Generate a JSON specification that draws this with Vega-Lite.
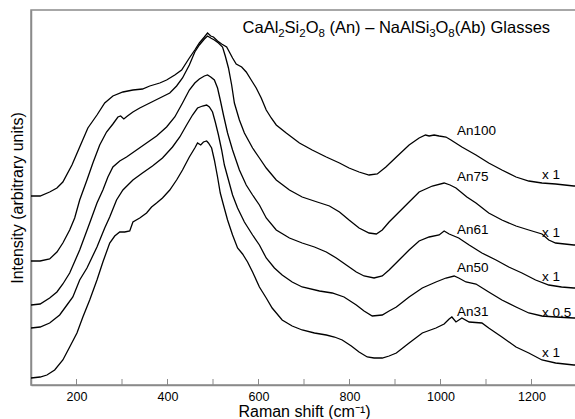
{
  "$schema": "https://vega.github.io/schema/vega-lite/v6.json",
  "autosize": "none",
  "padding": {"left": 31, "top": 10, "right": 0, "bottom": 34},
  "width": 546,
  "height": 375,
  "background": "white",
  "config": {
    "font": "Liberation Sans",
    "view": {"stroke": "#8a8a8a", "strokeWidth": 1.5},
    "axis": {"grid": false, "titleFontWeight": "normal", "titleFont": "Liberation Sans", "labelFont": "Liberation Sans", "titleColor": "black", "labelColor": "black", "domainColor": "#8a8a8a", "domainWidth": 1.5, "tickColor": "#8a8a8a"}
  },
  "datasets": {
    "spectra": [
      {"s":"An100","x":100,"y":189},{"s":"An100","x":120,"y":189},{"s":"An100","x":141,"y":193},{"s":"An100","x":157,"y":197},{"s":"An100","x":170,"y":203},{"s":"An100","x":190,"y":220},{"s":"An100","x":207,"y":238},{"s":"An100","x":225,"y":257},{"s":"An100","x":245,"y":270},{"s":"An100","x":262,"y":282},{"s":"An100","x":280,"y":289},{"s":"An100","x":302,"y":293},{"s":"An100","x":324,"y":295},{"s":"An100","x":345,"y":296},{"s":"An100","x":361,"y":299},{"s":"An100","x":383,"y":302},{"s":"An100","x":398,"y":305},{"s":"An100","x":416,"y":310},{"s":"An100","x":431,"y":315},{"s":"An100","x":448,"y":327},{"s":"An100","x":460,"y":335},{"s":"An100","x":470,"y":342},{"s":"An100","x":481,"y":348},{"s":"An100","x":488,"y":352},{"s":"An100","x":495,"y":349},{"s":"An100","x":501,"y":348},{"s":"An100","x":510,"y":344},{"s":"An100","x":519,"y":341},{"s":"An100","x":530,"y":338},{"s":"An100","x":536,"y":333},{"s":"An100","x":543,"y":327},{"s":"An100","x":551,"y":321},{"s":"An100","x":563,"y":318},{"s":"An100","x":573,"y":313},{"s":"An100","x":584,"y":305},{"s":"An100","x":595,"y":297},{"s":"An100","x":606,"y":287},{"s":"An100","x":617,"y":275},{"s":"An100","x":628,"y":267},{"s":"An100","x":639,"y":260},{"s":"An100","x":661,"y":252},{"s":"An100","x":690,"y":242},{"s":"An100","x":718,"y":235},{"s":"An100","x":749,"y":228},{"s":"An100","x":778,"y":222},{"s":"An100","x":799,"y":217},{"s":"An100","x":821,"y":213},{"s":"An100","x":843,"y":210},{"s":"An100","x":861,"y":211},{"s":"An100","x":880,"y":218},{"s":"An100","x":903,"y":228},{"s":"An100","x":931,"y":240},{"s":"An100","x":953,"y":247},{"s":"An100","x":967,"y":250},{"s":"An100","x":975,"y":249},{"s":"An100","x":986,"y":250},{"s":"An100","x":997,"y":249},{"s":"An100","x":1012,"y":248},{"s":"An100","x":1023,"y":245},{"s":"An100","x":1047,"y":238},{"s":"An100","x":1078,"y":230},{"s":"An100","x":1106,"y":222},{"s":"An100","x":1135,"y":215},{"s":"An100","x":1166,"y":208},{"s":"An100","x":1194,"y":204},{"s":"An100","x":1223,"y":202},{"s":"An100","x":1253,"y":201},{"s":"An100","x":1293,"y":199},{"s":"An100","x":1300,"y":199},

      {"s":"An75","x":100,"y":124},{"s":"An75","x":120,"y":124},{"s":"An75","x":141,"y":126},{"s":"An75","x":157,"y":133},{"s":"An75","x":170,"y":142},{"s":"An75","x":185,"y":155},{"s":"An75","x":196,"y":167},{"s":"An75","x":207,"y":185},{"s":"An75","x":223,"y":205},{"s":"An75","x":236,"y":222},{"s":"An75","x":251,"y":240},{"s":"An75","x":266,"y":253},{"s":"An75","x":280,"y":261},{"s":"An75","x":291,"y":268},{"s":"An75","x":297,"y":269},{"s":"An75","x":304,"y":266},{"s":"An75","x":312,"y":269},{"s":"An75","x":324,"y":273},{"s":"An75","x":339,"y":277},{"s":"An75","x":361,"y":282},{"s":"An75","x":383,"y":287},{"s":"An75","x":405,"y":292},{"s":"An75","x":420,"y":299},{"s":"An75","x":433,"y":307},{"s":"An75","x":448,"y":320},{"s":"An75","x":460,"y":333},{"s":"An75","x":470,"y":340},{"s":"An75","x":481,"y":346},{"s":"An75","x":488,"y":349},{"s":"An75","x":495,"y":347},{"s":"An75","x":503,"y":345},{"s":"An75","x":512,"y":342},{"s":"An75","x":521,"y":338},{"s":"An75","x":527,"y":329},{"s":"An75","x":534,"y":317},{"s":"An75","x":541,"y":300},{"s":"An75","x":547,"y":282},{"s":"An75","x":558,"y":265},{"s":"An75","x":569,"y":252},{"s":"An75","x":587,"y":237},{"s":"An75","x":602,"y":227},{"s":"An75","x":617,"y":217},{"s":"An75","x":639,"y":205},{"s":"An75","x":668,"y":195},{"s":"An75","x":696,"y":188},{"s":"An75","x":729,"y":183},{"s":"An75","x":756,"y":179},{"s":"An75","x":778,"y":173},{"s":"An75","x":799,"y":165},{"s":"An75","x":821,"y":157},{"s":"An75","x":843,"y":152},{"s":"An75","x":859,"y":151},{"s":"An75","x":872,"y":155},{"s":"An75","x":887,"y":163},{"s":"An75","x":909,"y":173},{"s":"An75","x":931,"y":183},{"s":"An75","x":953,"y":193},{"s":"An75","x":982,"y":199},{"s":"An75","x":1008,"y":202},{"s":"An75","x":1021,"y":200},{"s":"An75","x":1034,"y":197},{"s":"An75","x":1058,"y":188},{"s":"An75","x":1078,"y":182},{"s":"An75","x":1106,"y":172},{"s":"An75","x":1135,"y":165},{"s":"An75","x":1166,"y":159},{"s":"An75","x":1194,"y":155},{"s":"An75","x":1223,"y":151},{"s":"An75","x":1238,"y":145},{"s":"An75","x":1253,"y":142},{"s":"An75","x":1293,"y":140},{"s":"An75","x":1300,"y":140},

      {"s":"An61","x":100,"y":80},{"s":"An61","x":120,"y":81},{"s":"An61","x":141,"y":87},{"s":"An61","x":157,"y":93},{"s":"An61","x":170,"y":101},{"s":"An61","x":185,"y":112},{"s":"An61","x":207,"y":135},{"s":"An61","x":229,"y":162},{"s":"An61","x":245,"y":182},{"s":"An61","x":258,"y":195},{"s":"An61","x":269,"y":208},{"s":"An61","x":280,"y":218},{"s":"An61","x":295,"y":224},{"s":"An61","x":310,"y":228},{"s":"An61","x":332,"y":235},{"s":"An61","x":354,"y":242},{"s":"An61","x":376,"y":249},{"s":"An61","x":398,"y":258},{"s":"An61","x":416,"y":268},{"s":"An61","x":433,"y":282},{"s":"An61","x":448,"y":295},{"s":"An61","x":460,"y":302},{"s":"An61","x":470,"y":306},{"s":"An61","x":481,"y":309},{"s":"An61","x":488,"y":310},{"s":"An61","x":495,"y":308},{"s":"An61","x":503,"y":305},{"s":"An61","x":510,"y":297},{"s":"An61","x":516,"y":285},{"s":"An61","x":523,"y":270},{"s":"An61","x":532,"y":252},{"s":"An61","x":543,"y":235},{"s":"An61","x":558,"y":215},{"s":"An61","x":573,"y":200},{"s":"An61","x":587,"y":190},{"s":"An61","x":602,"y":180},{"s":"An61","x":617,"y":167},{"s":"An61","x":639,"y":155},{"s":"An61","x":668,"y":147},{"s":"An61","x":696,"y":142},{"s":"An61","x":723,"y":138},{"s":"An61","x":749,"y":133},{"s":"An61","x":771,"y":127},{"s":"An61","x":793,"y":120},{"s":"An61","x":815,"y":113},{"s":"An61","x":832,"y":109},{"s":"An61","x":854,"y":107},{"s":"An61","x":872,"y":109},{"s":"An61","x":887,"y":115},{"s":"An61","x":909,"y":125},{"s":"An61","x":931,"y":135},{"s":"An61","x":953,"y":144},{"s":"An61","x":975,"y":148},{"s":"An61","x":997,"y":150},{"s":"An61","x":1008,"y":154},{"s":"An61","x":1019,"y":151},{"s":"An61","x":1040,"y":147},{"s":"An61","x":1063,"y":140},{"s":"An61","x":1091,"y":132},{"s":"An61","x":1122,"y":125},{"s":"An61","x":1150,"y":118},{"s":"An61","x":1179,"y":112},{"s":"An61","x":1209,"y":105},{"s":"An61","x":1238,"y":100},{"s":"An61","x":1266,"y":98},{"s":"An61","x":1293,"y":97},{"s":"An61","x":1300,"y":97},

      {"s":"An50","x":100,"y":57},{"s":"An50","x":120,"y":58},{"s":"An50","x":141,"y":62},{"s":"An50","x":163,"y":70},{"s":"An50","x":179,"y":80},{"s":"An50","x":192,"y":88},{"s":"An50","x":207,"y":105},{"s":"An50","x":223,"y":117},{"s":"An50","x":245,"y":138},{"s":"An50","x":262,"y":157},{"s":"An50","x":273,"y":168},{"s":"An50","x":288,"y":185},{"s":"An50","x":302,"y":195},{"s":"An50","x":324,"y":205},{"s":"An50","x":345,"y":212},{"s":"An50","x":367,"y":219},{"s":"An50","x":389,"y":227},{"s":"An50","x":411,"y":238},{"s":"An50","x":427,"y":248},{"s":"An50","x":442,"y":260},{"s":"An50","x":455,"y":270},{"s":"An50","x":466,"y":277},{"s":"An50","x":477,"y":279},{"s":"An50","x":486,"y":280},{"s":"An50","x":492,"y":278},{"s":"An50","x":499,"y":273},{"s":"An50","x":505,"y":263},{"s":"An50","x":512,"y":250},{"s":"An50","x":519,"y":235},{"s":"An50","x":525,"y":220},{"s":"An50","x":534,"y":205},{"s":"An50","x":543,"y":190},{"s":"An50","x":554,"y":177},{"s":"An50","x":569,"y":163},{"s":"An50","x":587,"y":150},{"s":"An50","x":602,"y":140},{"s":"An50","x":617,"y":127},{"s":"An50","x":635,"y":117},{"s":"An50","x":652,"y":110},{"s":"An50","x":674,"y":103},{"s":"An50","x":696,"y":98},{"s":"An50","x":734,"y":94},{"s":"An50","x":762,"y":92},{"s":"An50","x":788,"y":88},{"s":"An50","x":815,"y":80},{"s":"An50","x":832,"y":74},{"s":"An50","x":850,"y":69},{"s":"An50","x":872,"y":70},{"s":"An50","x":887,"y":74},{"s":"An50","x":903,"y":78},{"s":"An50","x":931,"y":88},{"s":"An50","x":960,"y":97},{"s":"An50","x":990,"y":103},{"s":"An50","x":1012,"y":107},{"s":"An50","x":1030,"y":109},{"s":"An50","x":1040,"y":107},{"s":"An50","x":1056,"y":103},{"s":"An50","x":1078,"y":101},{"s":"An50","x":1106,"y":93},{"s":"An50","x":1135,"y":85},{"s":"An50","x":1166,"y":78},{"s":"An50","x":1194,"y":72},{"s":"An50","x":1223,"y":69},{"s":"An50","x":1253,"y":68},{"s":"An50","x":1293,"y":67},{"s":"An50","x":1300,"y":67},

      {"s":"An31","x":100,"y":7},{"s":"An31","x":120,"y":8},{"s":"An31","x":135,"y":10},{"s":"An31","x":152,"y":15},{"s":"An31","x":170,"y":25},{"s":"An31","x":185,"y":38},{"s":"An31","x":201,"y":52},{"s":"An31","x":214,"y":68},{"s":"An31","x":229,"y":85},{"s":"An31","x":245,"y":105},{"s":"An31","x":258,"y":123},{"s":"An31","x":273,"y":142},{"s":"An31","x":284,"y":149},{"s":"An31","x":295,"y":153},{"s":"An31","x":306,"y":153},{"s":"An31","x":317,"y":154},{"s":"An31","x":324,"y":163},{"s":"An31","x":339,"y":167},{"s":"An31","x":354,"y":172},{"s":"An31","x":365,"y":178},{"s":"An31","x":376,"y":182},{"s":"An31","x":389,"y":187},{"s":"An31","x":405,"y":195},{"s":"An31","x":420,"y":205},{"s":"An31","x":433,"y":215},{"s":"An31","x":448,"y":228},{"s":"An31","x":460,"y":237},{"s":"An31","x":466,"y":242},{"s":"An31","x":473,"y":240},{"s":"An31","x":479,"y":243},{"s":"An31","x":486,"y":244},{"s":"An31","x":490,"y":242},{"s":"An31","x":497,"y":237},{"s":"An31","x":503,"y":225},{"s":"An31","x":510,"y":208},{"s":"An31","x":516,"y":192},{"s":"An31","x":523,"y":180},{"s":"An31","x":532,"y":165},{"s":"An31","x":543,"y":150},{"s":"An31","x":554,"y":137},{"s":"An31","x":565,"y":131},{"s":"An31","x":576,"y":123},{"s":"An31","x":587,"y":113},{"s":"An31","x":602,"y":98},{"s":"An31","x":617,"y":87},{"s":"An31","x":630,"y":77},{"s":"An31","x":652,"y":65},{"s":"An31","x":674,"y":59},{"s":"An31","x":696,"y":55},{"s":"An31","x":723,"y":52},{"s":"An31","x":749,"y":50},{"s":"An31","x":767,"y":48},{"s":"An31","x":784,"y":45},{"s":"An31","x":804,"y":39},{"s":"An31","x":821,"y":33},{"s":"An31","x":839,"y":28},{"s":"An31","x":854,"y":27},{"s":"An31","x":872,"y":27},{"s":"An31","x":887,"y":29},{"s":"An31","x":903,"y":32},{"s":"An31","x":931,"y":42},{"s":"An31","x":960,"y":52},{"s":"An31","x":990,"y":57},{"s":"An31","x":1008,"y":61},{"s":"An31","x":1019,"y":66},{"s":"An31","x":1025,"y":68},{"s":"An31","x":1034,"y":63},{"s":"An31","x":1047,"y":67},{"s":"An31","x":1063,"y":63},{"s":"An31","x":1091,"y":62},{"s":"An31","x":1106,"y":57},{"s":"An31","x":1135,"y":48},{"s":"An31","x":1166,"y":38},{"s":"An31","x":1194,"y":32},{"s":"An31","x":1223,"y":25},{"s":"An31","x":1253,"y":22},{"s":"An31","x":1293,"y":20},{"s":"An31","x":1300,"y":20}
    ],
    "labels": [
      {"t":"An100","x":1036,"y":254},
      {"t":"An75","x":1036,"y":208},
      {"t":"An61","x":1036,"y":155},
      {"t":"An50","x":1036,"y":117},
      {"t":"An31","x":1036,"y":73},
      {"t":"x 1","x":1223,"y":210},
      {"t":"x 1","x":1223,"y":152},
      {"t":"x 1","x":1223,"y":108},
      {"t":"x 0.5","x":1223,"y":72},
      {"t":"x 1","x":1223,"y":32}
    ],
    "titleMain": [
      {"t":"CaAl","x":565,"y":352},
      {"t":"Si","x":657.4,"y":352},
      {"t":"O","x":703.6,"y":352},
      {"t":"(An) – NaAlSi","x":755.9,"y":352},
      {"t":"O","x":989,"y":352},
      {"t":"(Ab) Glasses","x":1031.2,"y":352}
    ],
    "titleSub": [
      {"t":"2","x":643.4,"y":352},
      {"t":"2","x":689.6,"y":352},
      {"t":"8","x":731.8,"y":352},
      {"t":"3","x":975,"y":352},
      {"t":"8","x":1017.2,"y":352}
    ],
    "ticks": [
      {"t":200},{"t":300},{"t":400},{"t":500},{"t":600},{"t":700},{"t":800},{"t":900},{"t":1000},{"t":1100},{"t":1200}
    ]
  },
  "layer": [
    {
      "data": {"name": "spectra"},
      "mark": {"type": "line", "color": "black", "strokeWidth": 1.3, "clip": true},
      "encoding": {
        "x": {"field": "x", "type": "quantitative",
          "scale": {"domain": [100, 1300], "nice": false, "zero": false},
          "axis": {"title": "Raman shift (cm⁻¹)", "titleFontSize": 16, "titlePadding": 1,
            "values": [200, 400, 600, 800, 1000, 1200], "format": "d",
            "labelFontSize": 12.5, "ticks": false, "labelPadding": 5, "labelFlush": false}},
        "y": {"field": "y", "type": "quantitative",
          "scale": {"domain": [0, 375], "nice": false, "zero": false},
          "axis": {"title": "Intensity (arbitrary units)", "titleFontSize": 16, "ticks": false, "tickSize": 0, "labels": false, "titlePadding": 6}},
        "detail": {"field": "s", "type": "nominal"}
      }
    },
    {
      "data": {"name": "ticks"},
      "mark": {"type": "rule", "color": "#8a8a8a", "strokeWidth": 1},
      "encoding": {
        "x": {"field": "t", "type": "quantitative"},
        "y": {"datum": 0},
        "y2": {"datum": 6}
      }
    },
    {
      "data": {"name": "labels"},
      "mark": {"type": "text", "align": "left", "baseline": "middle", "fontSize": 13.5, "color": "black", "font": "Liberation Sans"},
      "encoding": {
        "x": {"field": "x", "type": "quantitative"},
        "y": {"field": "y", "type": "quantitative"},
        "text": {"field": "t", "type": "nominal"}
      }
    },
    {
      "data": {"name": "titleMain"},
      "mark": {"type": "text", "align": "left", "baseline": "alphabetic", "fontSize": 16.5, "color": "black", "font": "Liberation Sans"},
      "encoding": {
        "x": {"field": "x", "type": "quantitative"},
        "y": {"field": "y", "type": "quantitative"},
        "text": {"field": "t", "type": "nominal"}
      }
    },
    {
      "data": {"name": "titleSub"},
      "mark": {"type": "text", "align": "left", "baseline": "alphabetic", "fontSize": 11.5, "dy": 4, "color": "black", "font": "Liberation Sans"},
      "encoding": {
        "x": {"field": "x", "type": "quantitative"},
        "y": {"field": "y", "type": "quantitative"},
        "text": {"field": "t", "type": "nominal"}
      }
    }
  ]
}
